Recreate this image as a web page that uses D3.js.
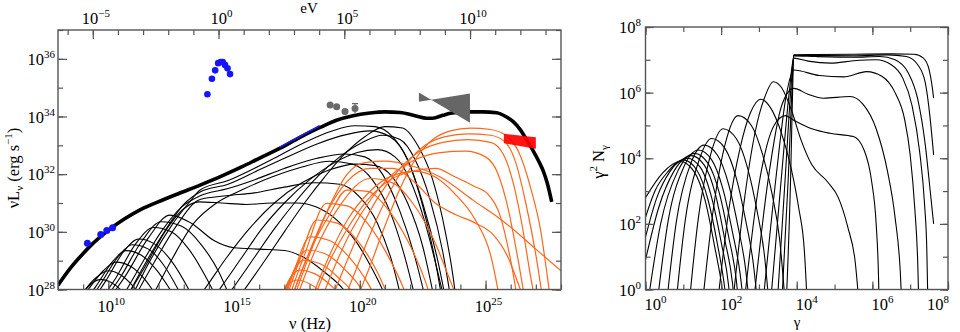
<!DOCTYPE html>
<html><head><meta charset="utf-8">
<script src="https://cdn.jsdelivr.net/npm/d3@7"></script>
<style>body{margin:0;background:#fff} text{font-family:"Liberation Serif","Times New Roman",serif;fill:#000}</style>
</head><body><svg id="c" width="960" height="332"></svg>
<script>
// ---------- DATA (log10 values) ----------
// Left panel: [log10 nu (Hz), log10 nuL_nu (erg/s)]
const sedTotal = [[8,28.15],[8.5,28.75],[9.0,29.25],[9.32,29.54],[10,30.05],[10.65,30.45],[11.3,30.78],[11.98,31.04],[12.8,31.33],[13.65,31.62],[14.5,31.93],[15.3,32.25],[16.0,32.55],[16.83,32.9],[17.6,33.27],[18.42,33.62],[19.1,33.88],[19.73,34.03],[20.4,34.12],[21.0,34.16],[21.6,34.14],[22.2,34.03],[22.66,33.94],[22.9,33.94],[23.3,34.04],[23.6,34.11],[24.25,34.16],[24.9,34.16],[25.44,34.13],[25.8,34.0],[26.1,33.82],[26.4,33.52],[26.64,33.18],[26.9,32.8],[27.17,32.35],[27.3,32.1],[27.45,31.7],[27.63,31.04]];

const syncCurves = [
 [[8.5,27.3],[9.0,27.9],[9.4,28.25],[9.7,28.35],[10.1,28.25],[10.6,27.9],[11.2,27.2]],
 [[8.5,27.2],[9.0,27.9],[9.5,28.4],[10.0,28.65],[10.5,28.5],[11.0,28.1],[11.6,27.4]],
 [[8.6,27.3],[9.2,28.0],[9.8,28.65],[10.3,28.95],[10.9,28.8],[11.5,28.3],[12.1,27.5]],
 [[8.8,27.3],[9.5,28.1],[10.2,29.0],[10.7,29.35],[11.3,29.2],[11.9,28.7],[12.6,27.8]],
 [[9.0,27.3],[9.7,28.2],[10.4,29.15],[10.95,29.55],[11.6,29.4],[12.2,28.85],[12.9,27.8]],
 [[9.2,27.4],[9.9,28.3],[10.6,29.3],[11.2,29.75],[11.8,29.6],[12.5,29.0],[13.2,28.0],[13.5,27.5]],
 [[9.5,27.4],[10.3,28.4],[11.1,29.6],[11.8,30.15],[12.5,30.0],[13.2,29.4],[13.9,28.4],[14.2,27.9]],
 [[9.65,27.4],[10.5,28.45],[11.35,29.7],[12.1,30.35],[12.9,30.2],[13.7,29.55],[14.4,28.6],[14.9,27.6]],
 [[9.8,27.4],[10.7,28.5],[11.6,29.8],[12.45,30.58],[13.3,30.3],[14.2,29.7],[15.0,29.45],[16.0,29.4],[17.0,29.35],[17.8,29.1],[18.6,28.6],[19.35,28.0],[19.6,27.7]],
 [[10.5,27.4],[11.4,28.7],[12.4,30.2],[13.0,30.8],[13.6,31.04],[14.5,31.0],[15.5,30.95],[16.5,31.0],[17.5,31.0],[18.3,30.85],[19.1,30.4],[19.9,29.6],[20.5,28.7],[20.9,28.0],[21.1,27.6]],
 [[10.9,27.5],[11.8,28.9],[12.7,30.2],[13.65,31.12],[14.7,31.25],[15.8,31.35],[17.0,31.55],[18.2,31.7],[19.2,31.65],[20.0,31.2],[20.7,30.3],[21.3,28.9],[21.7,27.5]],
 [[11.6,27.5],[12.5,29.0],[13.4,30.3],[14.3,31.0],[15.3,31.45],[16.5,31.9],[17.7,32.25],[18.8,32.45],[19.7,32.35],[20.5,31.8],[21.2,30.7],[21.8,29.1],[22.26,27.5]],
 [[10.4,27.5],[11.2,28.7],[12.1,30.0],[12.9,30.85],[13.65,31.25],[14.76,31.5],[15.8,31.8],[17.0,32.2],[18.3,32.55],[19.4,32.7],[20.2,32.6],[20.9,32.0],[21.6,30.7],[22.2,29.1],[22.66,27.5]],
 [[10.6,27.5],[11.4,28.8],[12.3,30.1],[13.0,30.95],[13.65,31.38],[14.76,31.65],[16.0,32.15],[17.0,32.55],[18.3,33.05],[19.5,33.38],[20.4,33.5],[21.2,33.3],[21.9,32.5],[22.5,30.9],[23.0,29.0],[23.3,27.5]],
 [[10.8,27.5],[11.6,28.9],[12.5,30.2],[13.2,31.0],[13.65,31.45],[14.76,31.78],[15.8,32.2],[16.83,32.66],[17.8,33.1],[18.9,33.5],[19.8,33.68],[20.6,33.65],[21.3,33.3],[21.9,32.5],[22.5,31.0],[23.1,29.0],[23.45,27.5]],
 [[13.4,27.5],[13.9,28.1],[14.7,29.1],[15.6,30.1],[16.6,31.0],[17.7,31.7],[18.8,32.15],[19.8,32.35],[20.6,32.3],[21.3,31.9],[21.9,31.0],[22.5,29.5],[23.0,27.5]],
 [[14.0,27.5],[14.5,28.1],[15.3,29.1],[16.1,30.1],[17.0,31.0],[18.0,31.8],[19.0,32.4],[19.9,32.75],[20.7,32.85],[21.4,32.6],[22.0,31.8],[22.6,30.3],[23.1,28.6],[23.4,27.5]],
 [[14.5,27.5],[15.0,28.1],[15.8,29.1],[16.6,30.1],[17.4,31.0],[18.3,31.9],[19.2,32.6],[20.1,33.1],[20.9,33.35],[21.6,33.2],[22.2,32.5],[22.8,31.1],[23.3,29.3],[23.65,27.5]],
 [[15.0,27.5],[15.5,28.1],[16.3,29.1],[17.0,30.0],[17.8,31.0],[18.6,31.9],[19.4,32.7],[20.2,33.3],[21.0,33.65],[21.7,33.6],[22.3,33.0],[22.9,31.8],[23.4,30.0],[23.7,28.5],[23.85,27.5]]
];

const icCurves = [
 [[16.75,27.5],[17.1,28.1],[17.5,28.33],[18.0,28.2],[18.6,27.8],[19.1,27.3]],
 [[16.8,27.5],[17.2,28.35],[17.62,28.67],[18.2,28.55],[18.9,28.1],[19.6,27.4]],
 [[16.85,27.5],[17.3,28.5],[17.75,29.02],[18.4,28.9],[19.1,28.45],[19.9,27.6],[20.0,27.4]],
 [[16.9,27.5],[17.35,28.6],[17.9,29.37],[18.6,29.25],[19.4,28.7],[20.2,27.8],[20.4,27.4]],
 [[16.95,27.5],[17.45,28.8],[18.02,29.83],[18.8,29.7],[19.6,29.1],[20.4,28.1],[20.8,27.4]],
 [[17.0,27.5],[17.6,29.0],[18.29,30.41],[19.1,30.3],[19.9,29.7],[20.7,28.6],[21.3,27.4]],
 [[17.1,27.5],[17.8,29.2],[18.68,30.99],[19.5,30.9],[20.3,30.3],[21.1,29.2],[21.8,27.9],[22.0,27.4]],
 [[17.2,27.5],[18.0,29.3],[18.8,30.6],[19.48,31.45],[20.3,31.4],[21.1,30.8],[21.9,29.7],[22.6,28.3],[22.9,27.5]],
 [[17.4,27.5],[18.2,29.3],[19.2,30.9],[20.4,31.85],[21.3,31.7],[22.1,31.0],[22.9,29.8],[23.6,28.3],[24.0,27.4]],
 [[17.2,27.5],[17.9,29.1],[18.7,30.7],[19.5,31.75],[20.4,32.2],[21.3,32.2],[22.2,31.7],[23.0,31.0],[23.8,30.6],[24.6,30.3],[25.3,29.9],[25.9,29.1],[26.3,28.2],[26.6,27.5]],
 [[17.3,27.5],[18.0,29.2],[18.8,30.9],[19.5,32.0],[20.2,32.4],[21.0,32.45],[22.0,32.3],[23.2,31.9],[24.5,31.1],[25.8,30.3],[27.0,29.4],[28.0,28.65]],
 [[18.0,27.5],[18.7,29.0],[19.5,30.4],[20.4,31.4],[21.3,31.95],[22.2,32.1],[23.0,31.9],[23.8,31.3],[24.6,30.4],[25.2,29.2],[25.6,27.5]],
 [[18.1,27.5],[18.7,28.8],[19.5,30.1],[20.3,31.1],[21.2,31.8],[22.1,32.1],[23.0,32.2],[23.8,31.9],[24.5,31.6],[25.1,31.3],[25.6,30.5],[26.0,29.0],[26.3,27.5]],
 [[18.4,27.5],[19.0,28.8],[19.7,30.1],[20.5,31.2],[21.3,32.0],[22.2,32.5],[23.2,32.75],[24.2,32.8],[25.0,32.6],[25.5,32.0],[25.9,30.8],[26.3,29.0],[26.6,27.5]],
 [[18.8,27.5],[19.4,28.8],[20.1,30.2],[20.8,31.3],[21.6,32.2],[22.4,32.8],[23.3,33.1],[24.3,33.2],[25.2,33.1],[25.7,32.7],[26.1,31.7],[26.5,30.0],[26.8,28.4],[27.0,27.5]],
 [[19.3,27.5],[19.9,28.8],[20.5,30.1],[21.2,31.4],[21.9,32.4],[22.6,33.0],[23.4,33.3],[24.3,33.4],[25.2,33.35],[25.8,33.1],[26.2,32.4],[26.6,31.0],[27.0,29.2],[27.3,27.5]],
 [[19.8,27.5],[20.4,28.8],[21.0,30.2],[21.6,31.5],[22.2,32.5],[22.9,33.2],[23.6,33.5],[24.4,33.6],[25.2,33.55],[25.8,33.35],[26.3,32.8],[26.8,31.5],[27.2,30.0],[27.45,28.5],[27.6,27.5]]
];

const radioPts = [[9.17,29.6],[9.70,29.91],[9.94,30.05],[10.17,30.14]];
const opticalPts = [[13.94,34.77],[14.12,35.31],[14.25,35.6],[14.37,35.85],[14.47,35.89],[14.55,35.89],[14.64,35.79],[14.74,35.67],[14.84,35.47]];
const blueSeg = [[16.8,32.93],[17.6,33.3],[18.4,33.68]];
const xrayPts = [[18.82,34.40],[19.08,34.34],[19.41,34.17],[19.81,34.28]];
const xrayErr = [0.05,0.05,0.05,0.17];
const latBowtie = [[22.35,34.83],[24.38,33.78],[24.38,34.80],[22.35,34.51]];
const hessBand = [[25.73,33.40],[27.0,33.28],[27.0,32.88],[25.73,33.07]];

// Right panel: [log10 gamma, log10 gamma^2 N]
const electronCurves = [
 [[3.72,-0.5],[3.84,3.5],[3.9,6.5],[3.92,7.15],[4.5,7.16],[5.5,7.17],[6.5,7.18],[7.1,7.17],[7.35,7.05],[7.5,6.7],[7.58,6.2],[7.62,5.83]],
 [[3.6,-0.5],[3.78,3.5],[3.88,6.3],[3.92,7.14],[4.5,7.13],[5.5,7.12],[6.4,7.15],[6.9,7.1],[7.2,6.85],[7.4,6.3],[7.52,5.3],[7.62,4.1]],
 [[3.48,-0.5],[3.7,3.5],[3.85,6.2],[3.92,7.12],[4.5,7.1],[5.5,7.08],[6.2,7.1],[6.6,7.0],[6.95,6.6],[7.2,5.8],[7.4,4.4],[7.53,3.0],[7.62,2.0]],
 [[3.3,-0.5],[3.6,3.5],[3.8,6.0],[3.92,7.05],[4.3,6.96],[4.9,6.9],[5.5,6.97],[6.1,7.0],[6.5,6.85],[6.8,6.45],[7.05,5.6],[7.25,4.2],[7.38,2.6],[7.44,1.2],[7.47,-0.5]],
 [[3.1,-0.5],[3.45,3.4],[3.72,5.9],[3.92,6.69],[4.6,6.52],[5.24,6.48],[5.85,6.64],[6.25,6.5],[6.6,6.0],[6.85,5.2],[7.0,4.1],[7.12,2.5],[7.2,0.8],[7.23,-0.5]],
 [[2.85,-0.5],[3.25,3.4],[3.6,5.6],[3.92,6.13],[4.3,5.95],[4.7,5.83],[5.41,5.88],[5.75,5.65],[6.1,4.9],[6.4,3.6],[6.6,2.2],[6.74,0.5],[6.78,-0.5]],
 [[2.6,-0.5],[3.0,3.2],[3.4,5.0],[3.7,5.3],[3.92,5.16],[4.4,4.9],[4.88,4.76],[5.5,4.66],[5.78,4.25],[5.98,3.3],[6.1,2.0],[6.16,0.5],[6.18,-0.5]],
 [[2.3,-0.5],[2.6,2.6],[2.9,4.8],[3.15,5.85],[3.38,6.33],[3.6,6.15],[3.85,5.5],[4.1,4.6],[4.4,3.8],[4.8,3.3],[5.1,2.8],[5.35,1.9],[5.55,0.8],[5.65,-0.5]],
 [[1.9,-0.5],[2.2,2.4],[2.5,4.3],[2.78,5.4],[3.05,5.8],[3.3,5.55],[3.6,4.75],[3.85,3.7],[4.05,2.5],[4.2,1.2],[4.28,-0.5]],
 [[1.5,-0.5],[1.8,2.5],[2.1,4.4],[2.45,5.3],[2.8,5.0],[3.1,4.1],[3.35,2.9],[3.55,1.5],[3.7,-0.5]],
 [[1.15,-0.5],[1.4,2.2],[1.72,4.1],[2.05,4.9],[2.4,4.6],[2.7,3.7],[2.95,2.4],[3.15,1.0],[3.27,-0.5]],
 [[0.8,-0.5],[1.05,2.1],[1.42,3.95],[1.75,4.6],[2.1,4.3],[2.4,3.4],[2.65,2.1],[2.85,0.8],[2.97,-0.5]],
 [[0.55,-0.5],[0.82,2.1],[1.2,3.85],[1.55,4.4],[1.9,4.1],[2.2,3.2],[2.45,1.9],[2.65,0.6],[2.75,-0.5]],
 [[0.3,-0.5],[0.6,2.1],[1.0,3.7],[1.4,4.25],[1.75,3.95],[2.05,3.05],[2.3,1.75],[2.5,0.5],[2.6,-0.5]],
 [[0.05,-0.5],[0.4,2.0],[0.85,3.6],[1.3,4.15],[1.65,3.85],[1.95,2.95],[2.2,1.6],[2.4,0.3],[2.47,-0.5]],
 [[0,0.9],[0.35,2.5],[0.75,3.6],[1.2,4.08],[1.55,3.8],[1.85,2.9],[2.1,1.5],[2.3,0.2],[2.36,-0.5]],
 [[0,1.6],[0.3,2.8],[0.65,3.6],[1.1,4.0],[1.45,3.72],[1.75,2.8],[2.0,1.45],[2.2,0.1],[2.25,-0.5]],
 [[0,2.2],[0.25,3.0],[0.6,3.6],[1.0,3.95],[1.35,3.65],[1.65,2.75],[1.9,1.4],[2.1,0],[2.15,-0.5]],
 [[0,2.8],[0.45,3.55],[0.92,3.9],[1.28,3.6],[1.58,2.7],[1.83,1.3],[2.03,0],[2.08,-0.5]]
];

// tick labels (exponents)
const nuTickLabels = [10,15,20,25];
const eVTickLabels = [-5,0,5,10];
const lumTickLabels = [28,30,32,34,36];
const gammaTickLabels = [0,2,4,6,8];
const nTickLabels = [0,2,4,6,8];

// ---------- DRAWING ----------
const svg = d3.select("#c");
const P = v => Math.pow(10, v);
const H_EV = 4.1357e-15;

const xL = d3.scaleLog().domain([1e8,1e28]).range([58,561]);
const yL = d3.scaleLog().domain([1e28,1e37]).range([289.5,30]);
const xE = d3.scaleLog().domain([1e8*H_EV,1e28*H_EV]).range([58,561]);
const xR = d3.scaleLog().domain([1,1e8]).range([645.5,948]);
const yR = d3.scaleLog().domain([1,1e8]).range([289.5,27]);

const defs = svg.append("defs");
defs.append("clipPath").attr("id","clipL").append("rect").attr("x",58).attr("y",30).attr("width",503).attr("height",259.5);
defs.append("clipPath").attr("id","clipR").append("rect").attr("x",645.5).attr("y",27).attr("width",302.5).attr("height",262.5);

const lineL = d3.line().x(d=>xL(P(d[0]))).y(d=>yL(P(d[1]))).curve(d3.curveMonotoneX);
const lineR = d3.line().x(d=>xR(P(d[0]))).y(d=>yR(P(d[1]))).curve(d3.curveMonotoneX);

const gL = svg.append("g").attr("clip-path","url(#clipL)");
gL.selectAll("path.sync").data(syncCurves).join("path").attr("class","sync")
  .attr("d",lineL).attr("fill","none").attr("stroke","#000").attr("stroke-width",1.1);
gL.selectAll("path.ic").data(icCurves).join("path").attr("class","ic")
  .attr("d",lineL).attr("fill","none").attr("stroke","#ff6619").attr("stroke-width",1.2);
gL.append("path").datum(sedTotal).attr("d",lineL).attr("fill","none").attr("stroke","#000").attr("stroke-width",3.6).attr("stroke-linejoin","round");
gL.append("path").datum(blueSeg).attr("d",lineL).attr("fill","none").attr("stroke","#1a1aff").attr("stroke-width",1.6);

// bowtie & band
const poly = pts => pts.map(d=>[xL(P(d[0])),yL(P(d[1]))].join(",")).join(" ");
gL.append("polygon").attr("points",poly(latBowtie)).attr("fill","#666").attr("fill-rule","nonzero");
gL.append("polygon").attr("points",poly(hessBand)).attr("fill","#ff0000").attr("opacity",0.92);

// data points
gL.selectAll("circle.radio").data(radioPts).join("circle").attr("class","radio")
  .attr("cx",d=>xL(P(d[0]))).attr("cy",d=>yL(P(d[1]))).attr("r",3.5).attr("fill","#1414ff");
gL.selectAll("circle.opt").data(opticalPts).join("circle").attr("class","opt")
  .attr("cx",d=>xL(P(d[0]))).attr("cy",d=>yL(P(d[1]))).attr("r",3.3).attr("fill","#1414ff");
gL.selectAll("line.xerr").data(xrayPts).join("line").attr("class","xerr")
  .attr("x1",d=>xL(P(d[0]))).attr("x2",d=>xL(P(d[0])))
  .attr("y1",(d,i)=>yL(P(d[1]+xrayErr[i]))).attr("y2",(d,i)=>yL(P(d[1]-xrayErr[i])))
  .attr("stroke","#666").attr("stroke-width",1.2);
gL.selectAll("line.xcap").data(xrayPts).join("line").attr("class","xcap")
  .attr("x1",d=>xL(P(d[0]))-3).attr("x2",d=>xL(P(d[0]))+3)
  .attr("y1",(d,i)=>yL(P(d[1]+xrayErr[i]))).attr("y2",(d,i)=>yL(P(d[1]+xrayErr[i])))
  .attr("stroke","#666").attr("stroke-width",1.2);
gL.selectAll("circle.xray").data(xrayPts).join("circle").attr("class","xray")
  .attr("cx",d=>xL(P(d[0]))).attr("cy",d=>yL(P(d[1]))).attr("r",3.5).attr("fill","#6a6a6a");

// right panel curves
const gR = svg.append("g").attr("clip-path","url(#clipR)");
gR.selectAll("path.el").data(electronCurves).join("path").attr("class","el")
  .attr("d",lineR).attr("fill","none").attr("stroke","#000").attr("stroke-width",1.1);

// ---------- AXES ----------
const AX = "#555";
function ticks(axisFn, scale, vals, size, transform){
  const a = axisFn(scale).tickValues(vals).tickSize(-size).tickFormat("");
  const g = svg.append("g").attr("transform",transform).call(a);
  g.select(".domain").remove();
  g.selectAll("line").attr("stroke",AX).attr("stroke-width",1.2);
}
const range = (a,b)=>d3.range(a,b+1);
// left panel
const nuAll = range(8,28).map(P), nuMaj = nuTickLabels.map(P);
ticks(d3.axisBottom, xL, nuAll, 5, "translate(0,289.5)");
ticks(d3.axisBottom, xL, nuMaj, 9, "translate(0,289.5)");
const eAll = range(-6,13).map(P), eMaj = eVTickLabels.map(P);
ticks(d3.axisTop, xE, eAll, 5, "translate(0,30)");
ticks(d3.axisTop, xE, eMaj, 9, "translate(0,30)");
const lAll = range(28,37).map(P), lMaj = lumTickLabels.map(P);
ticks(d3.axisLeft, yL, lAll, 5, "translate(58,0)");
ticks(d3.axisLeft, yL, lMaj, 9, "translate(58,0)");
ticks(d3.axisRight, yL, lAll, 5, "translate(561,0)");
ticks(d3.axisRight, yL, lMaj, 9, "translate(561,0)");
svg.append("rect").attr("x",58).attr("y",30).attr("width",503).attr("height",259.5).attr("fill","none").attr("stroke",AX).attr("stroke-width",1.4);
// right panel
const gAll = range(0,8).map(P), gMaj = gammaTickLabels.map(P);
ticks(d3.axisBottom, xR, gAll, 5, "translate(0,289.5)");
ticks(d3.axisBottom, xR, gMaj, 8, "translate(0,289.5)");
ticks(d3.axisTop, xR, gAll, 5, "translate(0,27)");
ticks(d3.axisTop, xR, gMaj, 8, "translate(0,27)");
const nAll = range(0,8).map(P), nMaj = nTickLabels.map(P);
ticks(d3.axisLeft, yR, nAll, 5, "translate(645.5,0)");
ticks(d3.axisLeft, yR, nMaj, 8, "translate(645.5,0)");
ticks(d3.axisRight, yR, nAll, 5, "translate(948,0)");
ticks(d3.axisRight, yR, nMaj, 8, "translate(948,0)");
svg.append("rect").attr("x",645.5).attr("y",27).attr("width",302.5).attr("height",262.5).attr("fill","none").attr("stroke",AX).attr("stroke-width",1.4);

// ---------- LABELS ----------
const FS = 16.5, FSS = 11;
function pLabel(x,y,exp,anchor){
  const t = svg.append("text").attr("x",x).attr("y",y).attr("text-anchor",anchor).attr("font-size",FS);
  t.append("tspan").text("10");
  t.append("tspan").attr("dy",-7).attr("font-size",FSS).text(String(exp).replace("-","\u2212"));
}
nuTickLabels.forEach(e=>pLabel(xL(P(e))+3,312,e,"middle"));
eVTickLabels.forEach(e=>pLabel(xE(P(e))+3,24,e,"middle"));
lumTickLabels.forEach(e=>pLabel(55,yL(P(e))+6,e,"end"));
gammaTickLabels.forEach(e=>{ if(e===8) pLabel(xR(P(e))+1,310,e,"end"); else pLabel(xR(P(e))-1,310,e,"start"); });
nTickLabels.forEach(e=>pLabel(641,yR(P(e))+6,e,"end"));

// axis titles
svg.append("text").attr("x",310).attr("y",329).attr("text-anchor","middle").attr("font-size",FS).text("\u03bd  (Hz)");
svg.append("text").attr("x",309).attr("y",13).attr("text-anchor","middle").attr("font-size",15).text("eV");
const yt = svg.append("text").attr("transform","translate(19,168) rotate(-90)").attr("text-anchor","middle").attr("font-size",FS);
yt.append("tspan").text("\u03bdL");
yt.append("tspan").attr("dy",4).attr("font-size",FSS).text("\u03bd");
yt.append("tspan").attr("dy",-4).text("  (erg s");
yt.append("tspan").attr("dy",-7).attr("font-size",FSS).text("\u22121");
yt.append("tspan").attr("dy",7).text(")");
svg.append("text").attr("x",797).attr("y",327).attr("text-anchor","middle").attr("font-size",15).text("\u03b3");
const yr = svg.append("text").attr("transform","translate(604,162) rotate(-90)").attr("text-anchor","middle").attr("font-size",FS);
yr.append("tspan").text("\u03b3");
yr.append("tspan").attr("dy",-7).attr("font-size",FSS).text("2");
yr.append("tspan").attr("dy",7).text(" N");
yr.append("tspan").attr("dy",4).attr("font-size",FSS).text("\u03b3");
</script></body></html>
